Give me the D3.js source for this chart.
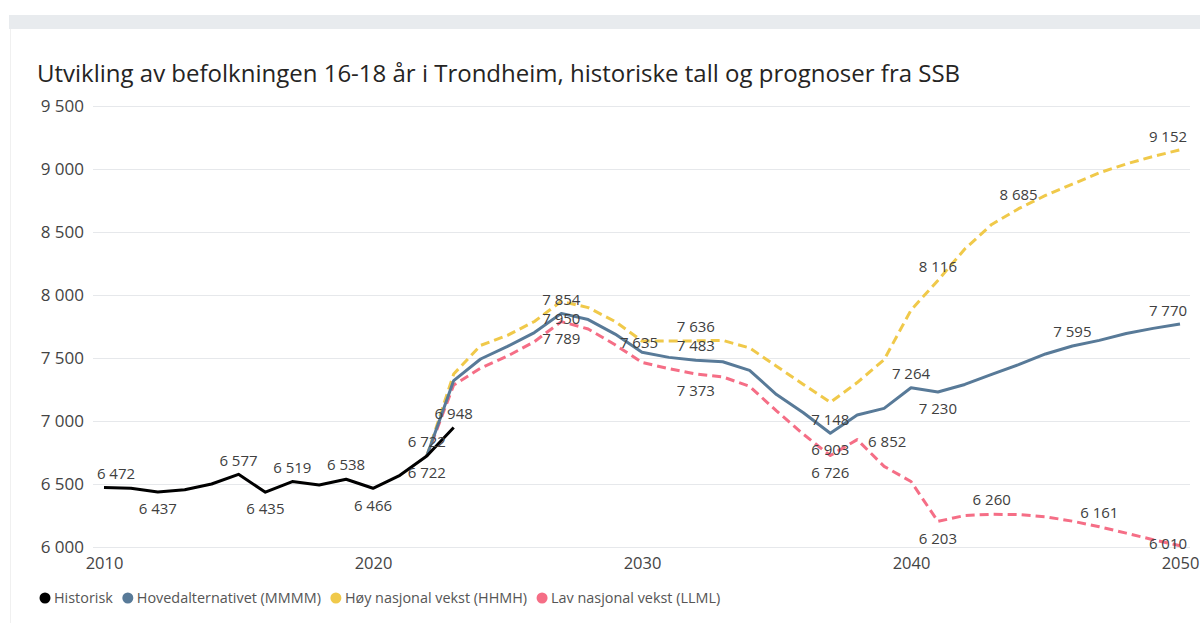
<!DOCTYPE html>
<html>
<head>
<meta charset="utf-8">
<script src="https://cdn.jsdelivr.net/npm/d3@7"></script>
<style>
  body { margin: 0; background: #fff; }
  svg { display: block; font-family: "Open Sans", "Noto Sans", sans-serif; }
</style>
</head>
<body>
<svg id="chart" width="1200" height="623"></svg>
<script>
// historiske tall
const histYears = d3.range(2010, 2024);
const historisk = [6472, 6466, 6437, 6454, 6500, 6577, 6435, 6519, 6492, 6538, 6466, 6569, 6722, 6948];

// prognoser SSB, 2022-2050
const progYears = d3.range(2022, 2051);
const hoved = [6722, 7321, 7492, 7592, 7702, 7854, 7805, 7690, 7545, 7505, 7483, 7470, 7402, 7210, 7066, 6903,
  7047, 7100, 7264, 7230, 7290, 7370, 7447, 7532, 7595, 7640, 7695, 7735, 7770];
const hoy = [6722, 7373, 7600, 7680, 7790, 7950, 7900, 7790, 7635, 7635, 7636, 7640, 7580, 7435, 7290, 7148,
  7305, 7487, 7880, 8116, 8365, 8560, 8685, 8790, 8880, 8970, 9040, 9100, 9152];
const lav = [6722, 7285, 7420, 7515, 7630, 7789, 7730, 7605, 7465, 7415, 7373, 7350, 7275, 7080, 6895, 6726,
  6852, 6640, 6520, 6203, 6250, 6260, 6257, 6240, 6205, 6161, 6110, 6058, 6010];

const seriesNames = ["Historisk", "Hovedalternativet (MMMM)", "Høy nasjonal vekst (HHMH)", "Lav nasjonal vekst (LLML)"];
const seriesColors = ["#000000", "#587A98", "#F0C94A", "#F56E86"];

const yTicks = [6000, 6500, 7000, 7500, 8000, 8500, 9000, 9500];
const xTicks = [2010, 2020, 2030, 2040, 2050];

// which points get a data label, and where
const labelSpec = [
  [0, 2010, "aboveR"], [0, 2012, "below"], [0, 2015, "above"], [0, 2016, "below"], [0, 2017, "above"],
  [0, 2019, "above"], [0, 2020, "below"], [0, 2022, "below"], [1, 2022, "above"], [0, 2023, "above"],
  [1, 2027, "above"], [2, 2027, "below"], [3, 2027, "below"], [2, 2030, "on"],
  [2, 2032, "above"], [1, 2032, "above"], [3, 2032, "below"],
  [2, 2037, "below"], [1, 2037, "below"], [3, 2037, "below"], [3, 2038, "right"],
  [1, 2040, "above"], [1, 2041, "below"], [3, 2041, "below"], [2, 2041, "above"],
  [3, 2043, "above"], [2, 2044, "above"], [1, 2046, "above"], [3, 2047, "above"],
  [2, 2050, "aboveL"], [1, 2050, "aboveL"], [3, 2050, "onL"]
];
const placement = {
  above: [0, -14], below: [0, 17], aboveR: [12, -14], aboveL: [-12, -13],
  on: [-3, 2], onL: [-12, -2], right: [30, 2]
};

const svg = d3.select("#chart");

// kort-bakgrunn
svg.append("rect").attr("x", 9).attr("y", 15).attr("width", 1191).attr("height", 14).attr("fill", "#E8EBEE");
svg.append("line").attr("x1", 10.5).attr("x2", 10.5).attr("y1", 29).attr("y2", 623)
  .attr("stroke", "#F0F0F0");

svg.append("text")
  .attr("x", 37).attr("y", 82)
  .attr("font-size", 24).attr("fill", "#252423")
  .text("Utvikling av befolkningen 16-18 år i Trondheim, historiske tall og prognoser fra SSB");

const x = d3.scaleLinear().domain([2010, 2050]).range([104, 1180]);
const y = d3.scaleLinear().domain([6000, 9500]).range([547, 106]);
const fmt = v => d3.format(",")(v).replace(",", " ");

// rutenett + y-akse
const yAxis = svg.append("g")
  .attr("transform", "translate(93,0)")
  .call(d3.axisLeft(y).tickValues(yTicks).tickSize(-1097).tickFormat(fmt).tickPadding(9));
yAxis.select(".domain").remove();
yAxis.selectAll(".tick line").attr("stroke", "#E6E8EB");
yAxis.selectAll(".tick text").attr("font-size", 17).attr("fill", "#444")
  .attr("font-family", "Open Sans");

// x-akse
const xAxis = svg.append("g")
  .attr("transform", "translate(0,556)")
  .call(d3.axisBottom(x).tickValues(xTicks).tickSize(0).tickFormat(d3.format("d")).tickPadding(1));
xAxis.select(".domain").remove();
xAxis.selectAll(".tick text").attr("font-size", 16.5).attr("fill", "#444")
  .attr("font-family", "Open Sans");

const series = [
  { years: histYears, values: historisk },
  { years: progYears, values: hoved },
  { years: progYears, values: hoy },
  { years: progYears, values: lav }
];

const line = d3.line().x(d => x(d[0])).y(d => y(d[1]));

// tegnerekkefølge: lav, høy, hoved, historisk
[3, 2, 1, 0].forEach(i => {
  const s = series[i];
  svg.append("path")
    .datum(d3.zip(s.years, s.values))
    .attr("d", line)
    .attr("fill", "none")
    .attr("stroke", seriesColors[i])
    .attr("stroke-width", 3)
    .attr("stroke-linejoin", "round")
    .attr("stroke-dasharray", i >= 2 ? "9,5" : null);
});

// dataetiketter
svg.append("g").selectAll("text")
  .data(labelSpec)
  .join("text")
  .attr("x", d => x(d[1]) + placement[d[2]][0])
  .attr("y", d => y(series[d[0]].values[series[d[0]].years.indexOf(d[1])]) + placement[d[2]][1])
  .attr("dy", "0.35em")
  .attr("text-anchor", "middle")
  .attr("font-size", 15)
  .attr("fill", "#404040")
  .text(d => fmt(series[d[0]].values[series[d[0]].years.indexOf(d[1])]));

// legende
const legend = svg.append("g").attr("transform", "translate(45,598)");
let lx = 0;
seriesNames.forEach((name, i) => {
  const g = legend.append("g").attr("transform", `translate(${lx},0)`);
  g.append("circle").attr("r", 5.5).attr("fill", seriesColors[i]);
  const t = g.append("text").attr("x", 9).attr("dy", "0.35em")
    .attr("font-size", 14.4).attr("fill", "#555").text(name);
  lx += 9 + t.node().getComputedTextLength() + 15;
});
</script>
</body>
</html>
